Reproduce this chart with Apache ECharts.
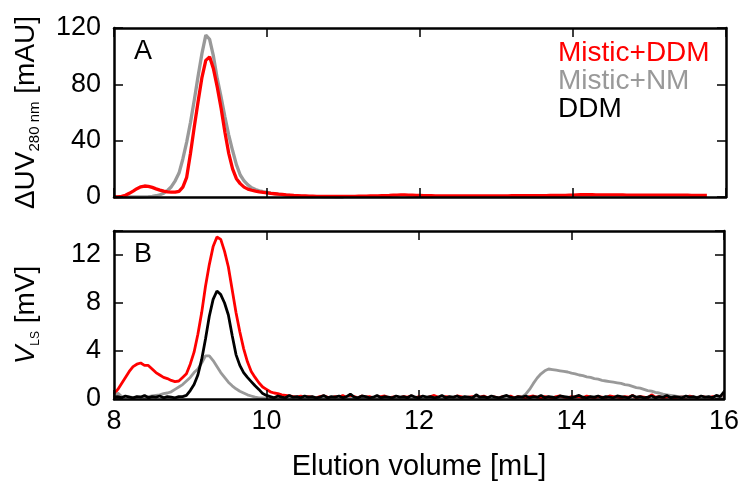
<!DOCTYPE html>
<html><head><meta charset="utf-8">
<script src="https://cdn.jsdelivr.net/npm/echarts@6/dist/echarts.min.js"></script>
<style>html,body{margin:0;padding:0;background:#fff}#c{width:742px;height:482px}</style>
</head><body><div id="c"></div>
<script>
// x sampling: value i sits at X0 + DX*i (mL)
const X0 = 8, DX = 0.05;
const xTicks = [8, 10, 12, 14, 16];
const yTicksA = [0, 40, 80, 120];
const yTicksB = [0, 4, 8, 12];
const seriesNames = ['Mistic+DDM', 'Mistic+NM', 'DDM'];

// Panel A: UV 280 nm [mAU]
const uvMisticDDM = [
0.0,0.1,0.4,1.2,2.6,4.2,5.9,7.2,7.8,7.6,
6.8,5.8,4.9,4.2,3.7,3.4,3.4,4.0,7.0,14,
31,50,68,85,97,99.5,91,78,63,46,
31,20,13,9.5,7,5.6,4.8,4.2,3.7,3.3,
3.0,2.6,2.3,2.0,1.8,1.5,1.3,1.1,1.0,0.8,
0.7,
0.6,0.6,0.5,0.5,0.5,0.5,0.5,0.5,0.5,0.5,
0.5,0.5,0.5,0.6,0.6,0.6,0.7,0.7,0.8,0.9,
1.0,1.1,1.3,1.4,1.5,1.5,1.4,1.3,1.2,1.1,
1.0,0.9,0.9,0.8,0.8,0.8,0.8,0.7,0.7,0.7,
0.7,0.7,0.7,0.7,0.8,0.8,0.8,0.8,0.8,0.8,
0.8,0.8,0.8,0.9,0.9,0.9,0.9,0.9,1.0,1.0,
1.0,1.0,1.0,1.1,1.1,1.1,1.2,1.2,1.3,1.4,
1.5,1.6,1.6,1.6,1.6,1.5,1.5,1.5,1.5,1.5,
1.5,1.5,1.5,1.4,1.4,1.4,1.4,1.4,1.4,1.4,
1.4,1.4,1.3,1.3,1.3,1.3,1.3,1.3,1.3,1.3,1.2,1.2,1.2,1.2,1.2
];
const uvMisticNM = [
0,0,0,0,0,0,0,0,0.1,0.2,
0.5,0.9,1.6,2.7,4.6,7.3,11.5,17,27,39,
53,69,86,102,115,112,100,84,71,57,
44,33,23,15.6,11.5,8.6,6.5,5.3,4.4,3.8,
3.3,2.8,2.4,2.0,1.7,1.4,1.1,0.9,0.7,0.5,
0.4,
0.3,0.3,0.2,0.2,0.1,0.1,0.1,0,0,0
];

// Panel B: light scattering V_LS [mV]
const lsMisticDDM = [
0.4,0.8,1.3,1.8,2.3,2.7,2.9,3.0,2.8,2.8,
2.5,2.2,2.0,1.8,1.7,1.55,1.45,1.5,1.8,2.1,
2.9,3.9,5.4,7.2,9.4,11.2,12.7,13.5,13.3,12.3,
11.0,9.1,7.2,5.6,4.2,3.1,2.3,1.8,1.35,1.0,
0.8,0.6,0.5,0.45,0.35,0.3,0.25,
0.2,0.15,0.25,0.1,0.2,0.15,0.1,0.2,0.25,0.15,
0.1,0.2,0.15,0.3,0.1,0.15,0.2,0.1,0.25,0.15,
0.2,0.1,0.15,0.2,0.25,0.1,0.15,0.2,0.1,0.2,
0.15,0.25,0.1,0.2,0.15,0.1,0.2,0.3,0.15,0.1,
0.2,0.15,0.1,0.25,0.2,0.1,0.15,0.2,0.1,0.15,
0.25,0.1,0.2,0.15,0.1,0.2,0.15,0.25,0.1,0.2,
0.15,0.1,0.2,0.25,0.15,0.1,0.2,0.15,0.1,0.2,
0.25,0.15,0.1,0.2,0.15,0.2,0.1,0.25,0.15,0.1,
0.2,0.15,0.1,0.25,0.2,0.15,0.1,0.2,0.15,0.3,
0.1,0.2,0.15,0.1,0.35,0.15,0.2,0.1,0.15,0.2,
0.1,0.15,0.2,0.1,0.25,0.15,0.1,0.2,0.15,0.1,
0.2,0.15,0.1,0.2
];
const lsMisticNM = [
0.1,0.5,0.2,0.15,0.2,0.1,0.15,0.2,0.1,0.2,
0.25,0.3,0.35,0.45,0.5,0.6,0.8,1.0,1.2,1.5,
1.8,2.2,2.5,3.0,3.6,3.6,3.2,2.7,2.2,1.8,
1.4,1.1,0.85,0.65,0.5,0.35,0.25,0.15,0.1,
0.1,0.05,0.1,0.05,0.05,0.1,0.05,0.1,0.05,0.05,
0.1,0.05,0.05,0.1,0.05,0.1,0.05,0.05,0.1,0.05,
0.1,0.05,0.1,0.05,0.05,0.1,0.05,0.1,0.05,0.05,
0.1,0.05,0.05,0.1,0.05,0.1,0.05,0.05,0.1,0.05,
0.1,0.05,0.1,0.05,0.05,0.1,0.05,0.1,0.05,0.05,
0.1,0.05,0.05,0.1,0.05,0.1,0.05,0.05,0.1,0.05,
0.1,0.05,0.1,0.05,0.05,0.1,0.05,
0.05,0.15,0.4,0.8,1.3,1.75,2.1,2.35,2.5,2.45,
2.4,2.35,2.3,2.25,2.15,2.1,2.0,1.95,1.85,1.8,
1.7,1.65,1.55,1.5,1.45,1.4,1.35,1.3,1.2,1.15,
1.05,0.95,0.9,0.8,0.7,0.65,0.55,0.5,0.4,0.35,
0.3,0.25,0.2,0.2,0.15,
0.15,0.1,0.15,0.1,0.1,0.15,0.1,0.1,0.15,0.1
];
const lsDDM = [
0.15,0.2,0.1,0.25,0.15,0.1,0.2,0.15,0.3,0.1,
0.2,0.15,0.25,0.1,0.2,0.15,0.1,0.2,0.2,0.3,
0.7,1.2,2.0,3.3,5.0,6.9,8.3,9.0,8.7,8.0,
7.0,5.3,3.7,2.8,2.2,1.8,1.45,1.1,0.8,0.45,
0.3,
0.2,0.1,0.25,0.15,0.1,0.3,0.15,0.2,0.1,0.25,
0.15,0.2,0.1,0.15,0.3,0.1,0.2,0.15,0.25,0.1,
0.2,0.4,0.15,0.1,0.25,0.2,0.1,0.15,0.3,0.1,
0.2,0.15,0.1,0.25,0.15,0.2,0.1,0.3,0.15,0.1,
0.25,0.15,0.2,0.1,0.15,0.3,0.1,0.2,0.15,0.25,
0.1,0.2,0.15,0.1,0.35,0.15,0.2,0.1,0.25,0.15,
0.1,0.2,0.3,0.15,0.1,0.2,0.15,0.25,0.1,0.2,
0.15,0.3,0.1,0.2,0.15,0.1,0.25,0.2,0.15,0.1,
0.2,0.3,0.15,0.1,0.2,0.15,0.25,0.1,0.2,0.15,
0.1,0.25,0.2,0.15,0.1,0.3,0.15,0.2,0.1,0.15,
0.25,0.1,0.2,0.15,0.3,0.1,0.2,0.15,0.1,0.25,
0.15,0.2,0.1,0.25,0.15,0.2,0.1,0.3,0.2,
0.6
];

const colors = {'Mistic+DDM': '#ff0000', 'Mistic+NM': '#999999', 'DDM': '#000000'};
const FONT = 'Liberation Sans';
const FS = 27;
const FS_BIG = 29;
const pts = arr => arr.map((v, i) => [+(X0 + DX * i).toFixed(2), v]);

const chart = echarts.init(document.getElementById('c'), null, {renderer: 'canvas'});

function xAx(grid, pos, labels, extra) {
  return Object.assign({
    type: 'value', gridIndex: grid, position: pos, min: xTicks[0], max: xTicks[xTicks.length - 1], interval: 2,
    z: 10,
    axisLine: {show: true, onZero: false, lineStyle: {color: '#000', width: 2.5}},
    axisTick: {show: true, inside: true, length: 9, lineStyle: {color: '#000', width: 1.5}},
    axisLabel: {show: labels, margin: 9, fontFamily: FONT, fontSize: FS, color: '#000'},
    splitLine: {show: false}
  }, extra || {});
}
function yAx(grid, pos, labels, max, interval, ticks, extra) {
  return Object.assign({
    type: 'value', gridIndex: grid, position: pos, min: 0, max: max, interval: interval,
    z: 10,
    axisLine: {show: true, onZero: false, lineStyle: {color: '#000', width: 2.5}},
    axisTick: {show: true, inside: true, length: 9, lineStyle: {color: '#000', width: 1.5}},
    axisLabel: {show: labels, margin: 13, fontFamily: FONT, fontSize: FS, color: '#000',
      formatter: v => ticks.indexOf(v) >= 0 ? String(v) : ''},
    splitLine: {show: false}
  }, extra || {});
}

const option = {
  animation: false,
  backgroundColor: '#fff',
  grid: [
    {left: 114, right: 16, top: 28, height: 169},
    {left: 114, right: 16, top: 231, height: 170}
  ],
  legend: {
    orient: 'vertical', left: 548, top: 34, itemGap: 0, itemWidth: 0, itemHeight: 26, icon: 'none',
    selectedMode: false,
    textStyle: {fontFamily: FONT, fontSize: 28, lineHeight: 26},
    data: seriesNames.map(n => ({name: n, textStyle: {color: colors[n]}}))
  },
  xAxis: [
    xAx(0, 'bottom', false),
    xAx(0, 'top', false),
    xAx(1, 'bottom', true, {name: 'Elution volume [mL]', nameLocation: 'middle', nameGap: 53,
      nameTextStyle: {fontFamily: FONT, fontSize: FS_BIG, color: '#000'}}),
    xAx(1, 'top', false)
  ],
  yAxis: [
    yAx(0, 'left', true, 120, 40, yTicksA, {
      name: '{a|ΔUV}{s|280 nm}{a| [mAU]}', nameLocation: 'middle', nameGap: 74, nameRotate: 90,
      nameTextStyle: {rich: {
        a: {fontFamily: FONT, fontSize: 28, color: '#000', lineHeight: 30, verticalAlign: 'bottom'},
        s: {fontFamily: FONT, fontSize: 15, color: '#000', lineHeight: 30, verticalAlign: 'bottom', padding: [0, 0, -2, 0]}
      }}
    }),
    yAx(0, 'right', false, 120, 40, yTicksA),
    yAx(1, 'left', true, 14, 4, yTicksB, {
      name: '{i|V}{s|LS}{a| [mV]}', nameLocation: 'middle', nameGap: 74, nameRotate: 90,
      nameTextStyle: {rich: {
        i: {fontFamily: FONT, fontSize: 28, fontStyle: 'italic', color: '#000', lineHeight: 30, verticalAlign: 'bottom'},
        a: {fontFamily: FONT, fontSize: 28, color: '#000', lineHeight: 30, verticalAlign: 'bottom'},
        s: {fontFamily: FONT, fontSize: 12, color: '#000', lineHeight: 30, verticalAlign: 'bottom', padding: [0, 0, -2, 0]}
      }}
    }),
    yAx(1, 'right', false, 14, 4, yTicksB)
  ],
  graphic: [
    {type: 'text', left: 134, top: 38, z: 20, style: {text: 'A', font: FS + 'px "' + FONT + '"', fill: '#000'}},
    {type: 'text', left: 134, top: 241, z: 20, style: {text: 'B', font: FS + 'px "' + FONT + '"', fill: '#000'}}
  ],
  series: [
    {name: 'Mistic+NM', type: 'line', xAxisIndex: 0, yAxisIndex: 0, data: pts(uvMisticNM), showSymbol: false,
      lineStyle: {color: colors['Mistic+NM'], width: 3.3}, itemStyle: {color: colors['Mistic+NM']}, z: 2},
    {name: 'Mistic+DDM', type: 'line', xAxisIndex: 0, yAxisIndex: 0, data: pts(uvMisticDDM), showSymbol: false,
      lineStyle: {color: colors['Mistic+DDM'], width: 3.3}, itemStyle: {color: colors['Mistic+DDM']}, z: 3},
    {name: 'Mistic+DDM', type: 'line', xAxisIndex: 2, yAxisIndex: 2, data: pts(lsMisticDDM), showSymbol: false,
      lineStyle: {color: colors['Mistic+DDM'], width: 2.8}, itemStyle: {color: colors['Mistic+DDM']}, z: 2},
    {name: 'Mistic+NM', type: 'line', xAxisIndex: 2, yAxisIndex: 2, data: pts(lsMisticNM), showSymbol: false,
      lineStyle: {color: colors['Mistic+NM'], width: 2.8}, itemStyle: {color: colors['Mistic+NM']}, z: 3},
    {name: 'DDM', type: 'line', xAxisIndex: 2, yAxisIndex: 2, data: pts(lsDDM), showSymbol: false,
      lineStyle: {color: colors['DDM'], width: 2.8}, itemStyle: {color: colors['DDM']}, z: 4}
  ]
};
chart.setOption(option);
</script>
</body></html>
